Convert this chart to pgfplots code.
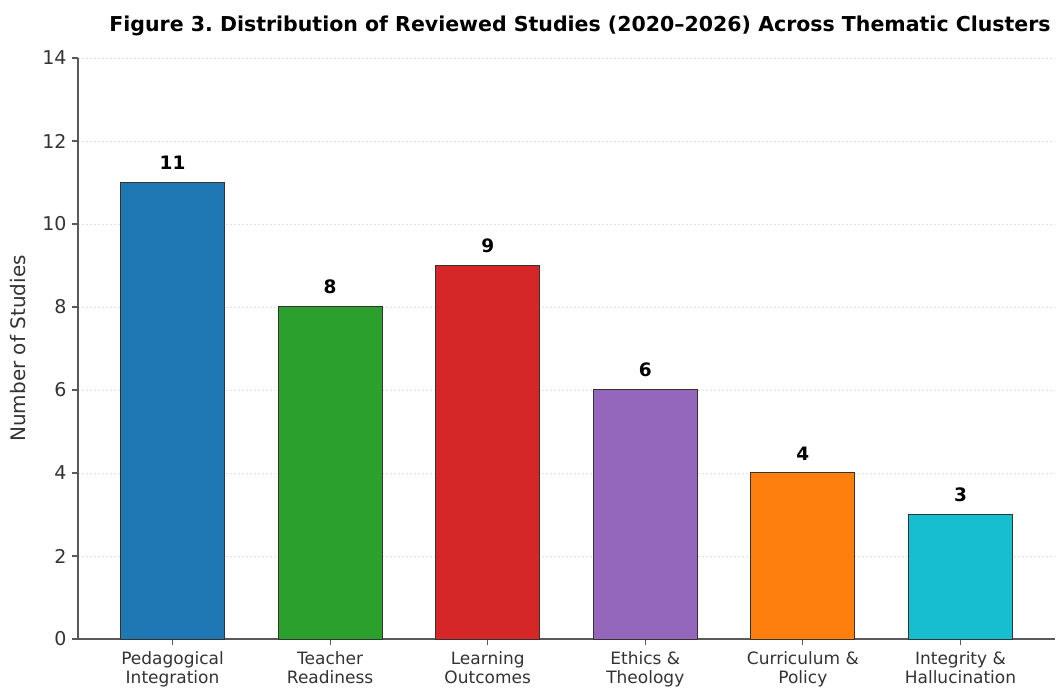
\documentclass[border=0pt]{standalone}
\usepackage{fontspec}
\setmainfont{DejaVu Sans}
\usepackage{pgfplots}
\pgfplotsset{compat=1.18}
\definecolor{c1}{HTML}{1F77B4}
\definecolor{c2}{HTML}{2CA02C}
\definecolor{c3}{HTML}{D62728}
\definecolor{c4}{HTML}{9467BD}
\definecolor{c5}{HTML}{FF7F0E}
\definecolor{c6}{HTML}{17BECF}
\newcommand{\fs}{\fontsize{17}{19.5}\selectfont}
\frenchspacing
\begin{document}
\begin{tikzpicture}[x=1pt,y=1pt]
\begin{axis}[
  at={(78pt,51pt)}, anchor=south west,
  scale only axis, width=977pt, height=581pt,
  xmin=-0.6, xmax=5.6, ymin=0, ymax=14,
  ytick={0,2,...,14},
  xtick={0,...,5},
  xticklabels={{Pedagogical\\Integration},{Teacher\\Readiness},{Learning\\Outcomes},{Ethics \&\\Theology},{Curriculum \&\\Policy},{Integrity \&\\Hallucination}},
  xticklabel style={align=center, font=\fs, text=black!80, yshift=-3pt},
  yticklabel style={font=\fontsize{19}{22}\selectfont, text=black!80, xshift=-2pt},
  /pgf/number format/assume math mode=true,
  axis x line*=bottom, axis y line*=left,
  axis line style={-, black!65, line width=1.2pt},
  tick style={black!65, line width=1.2pt},
  tick align=outside, major tick length=6pt,
  ymajorgrids, grid style={gray!25, dash pattern=on 2pt off 2pt, line width=0.8pt},
  ylabel={Number of Studies},
  ylabel style={font=\fontsize{20}{23}\selectfont, text=black!80, at={(axis description cs:-0.050,0.5)}, anchor=south},
  ybar, bar width=0.66, bar shift=0pt,
  nodes near coords,
  every node near coord/.append style={font=\bfseries\fontsize{18.5}{21}\selectfont, text=black, yshift=9pt},
]
\addplot[fill=c1, draw=black!80, line width=1pt] coordinates {(0,11)};
\addplot[fill=c2, draw=black!80, line width=1pt] coordinates {(1,8)};
\addplot[fill=c3, draw=black!80, line width=1pt] coordinates {(2,9)};
\addplot[fill=c4, draw=black!80, line width=1pt] coordinates {(3,6)};
\addplot[fill=c5, draw=black!80, line width=1pt] coordinates {(4,4)};
\addplot[fill=c6, draw=black!80, line width=1pt] coordinates {(5,3)};
\end{axis}
\node[anchor=base, font=\bfseries\fontsize{20.5}{24}\selectfont] at (580,658) {Figure 3. Distribution of Reviewed Studies (2020–2026) Across Thematic Clusters};
\pgfresetboundingbox
\path (0,0) rectangle (1059,690);
\end{tikzpicture}
\end{document}
